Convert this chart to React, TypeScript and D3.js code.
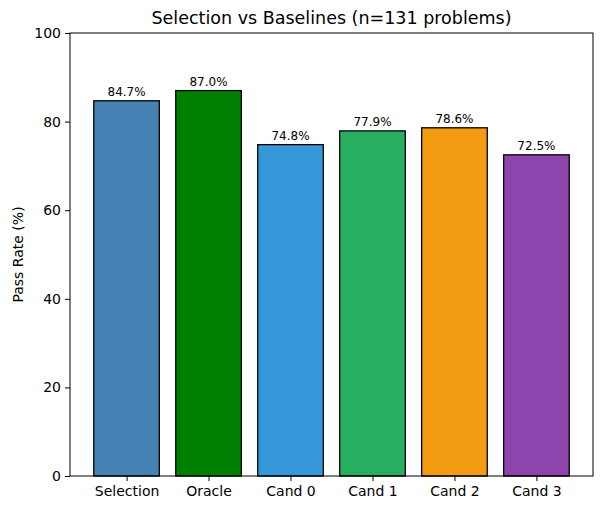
import * as d3 from 'd3';
import { useEffect, useRef } from 'react';

const categories = ['Selection', 'Oracle', 'Cand 0', 'Cand 1', 'Cand 2', 'Cand 3'];
const passRates = [84.7, 87.0, 74.8, 77.9, 78.6, 72.5];
const barColors = ['#4682b4', '#008000', '#3498db', '#27ae60', '#f39c12', '#8e44ad'];
const yTicks = [0, 20, 40, 60, 80, 100];

const App = () => {
    const ref = useRef<SVGSVGElement | null>(null);

    useEffect(() => {
        const width = 600;
        const height = 506;
        const margin = { top: 33, right: 7, bottom: 30, left: 70 };
        const font = 'DejaVu Sans, sans-serif';

        const svg = d3.select(ref.current);
        svg.selectAll('*').remove();

        const x = d3.scaleLinear()
            .domain([-0.69, categories.length - 1 + 0.69])
            .range([margin.left, width - margin.right]);

        const y = d3.scaleLinear()
            .domain([0, 100])
            .range([height - margin.bottom, margin.top]);

        svg.append('rect')
            .attr('width', width)
            .attr('height', height)
            .attr('fill', '#fff');

        // Bars
        svg.append('g')
            .selectAll('rect')
            .data(passRates)
            .join('rect')
            .attr('x', (_, i) => x(i - 0.4))
            .attr('width', (_, i) => x(i + 0.4) - x(i - 0.4))
            .attr('y', d => y(d))
            .attr('height', d => y(0) - y(d))
            .attr('fill', (_, i) => barColors[i])
            .attr('stroke', '#000')
            .attr('stroke-width', 1.3);

        // Value labels
        svg.append('g')
            .selectAll('text')
            .data(passRates)
            .join('text')
            .attr('x', (_, i) => x(i))
            .attr('y', d => y(d) - 5)
            .attr('text-anchor', 'middle')
            .style('font-family', font)
            .style('font-size', '12px')
            .text(d => `${d.toFixed(1)}%`);

        // X axis
        const xAxis = svg.append('g')
            .attr('transform', `translate(0,${y(0)})`)
            .call(d3.axisBottom(x)
                .tickValues(d3.range(categories.length))
                .tickFormat(i => categories[i as number])
                .tickSize(5)
                .tickPadding(5)
                .tickSizeOuter(0));
        xAxis.select('.domain').remove();
        xAxis.selectAll('text').style('font-family', font).style('font-size', '14px').attr('fill', '#000');
        xAxis.selectAll('line').attr('stroke', '#000');

        // Y axis
        const yAxis = svg.append('g')
            .attr('transform', `translate(${margin.left},0)`)
            .call(d3.axisLeft(y)
                .tickValues(yTicks)
                .tickSize(5)
                .tickPadding(4)
                .tickSizeOuter(0));
        yAxis.select('.domain').remove();
        yAxis.selectAll('text').style('font-family', font).style('font-size', '14px').attr('fill', '#000');
        yAxis.selectAll('line').attr('stroke', '#000');

        // Frame
        svg.append('rect')
            .attr('x', margin.left)
            .attr('y', margin.top)
            .attr('width', width - margin.right - margin.left)
            .attr('height', y(0) - margin.top)
            .attr('fill', 'none')
            .attr('stroke', '#000')
            .attr('stroke-width', 1);

        // Title
        svg.append('text')
            .attr('x', (margin.left + width - margin.right) / 2)
            .attr('y', 24)
            .attr('text-anchor', 'middle')
            .style('font-family', font)
            .style('font-size', '17.5px')
            .text('Selection vs Baselines (n=131 problems)');

        // Y label
        svg.append('text')
            .attr('transform', `translate(23,${(margin.top + y(0)) / 2}) rotate(-90)`)
            .attr('text-anchor', 'middle')
            .style('font-family', font)
            .style('font-size', '14px')
            .text('Pass Rate (%)');
    }, []);

    return (
        <svg
            ref={ref}
            width={600}
            height={506}
            style={{ position: 'absolute', left: 0, top: 0 }}
        />
    );
};

export default App;
